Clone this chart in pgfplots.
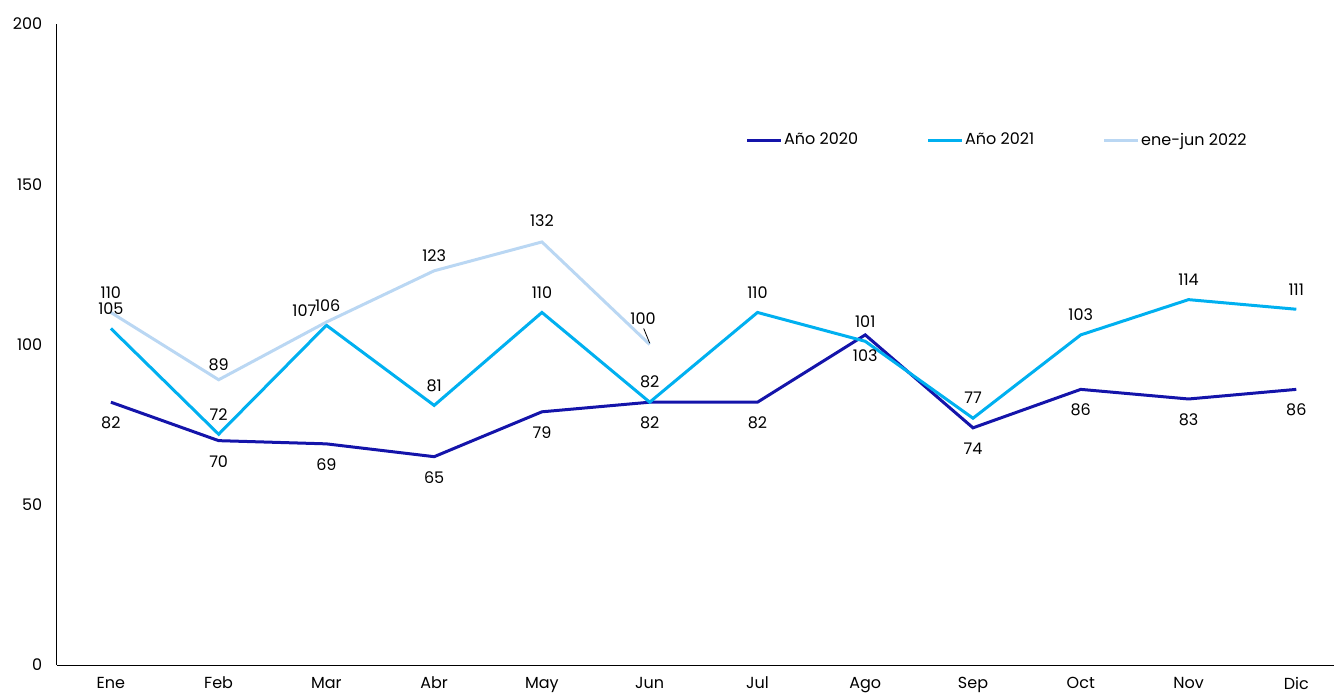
\documentclass[border=0pt]{standalone}
\usepackage{pgfplots}
\pgfplotsset{compat=1.18}
\usepackage{fontspec}
\setmainfont{Poppins}
\definecolor{cA}{HTML}{1414AA}
\definecolor{cB}{HTML}{00B0F0}
\definecolor{cC}{HTML}{BAD7F3}
\pgfplotstableread{
x y dx dy lab
0 82 0 -15.5 82
1 70 0 -15.5 70
2 69 0 -15.5 69
3 65 0 -15.5 65
4 79 0 -15.5 79
5 82 0 -15.5 82
6 82 0 -15.5 82
7 103 0 -15.5 103
8 74 0 -15.5 74
9 86 0 -15.5 86
10 83 0 -15.5 83
11 86 0 -15.5 86
}\tA
\pgfplotstableread{
x y dx dy lab
0 105 0 14.6 105
1 72 0 15 72
2 106 1 15 106
3 81 0 15 81
4 110 0 15 110
5 82 0 15 82
6 110 0 15 110
7 101 0 15 101
8 77 0 15 77
9 103 0 15 103
10 114 0 15 114
11 111 0 15 111
}\tB
\pgfplotstableread{
x y dx dy lab
0 110 0 14.6 110
1 89 0 11.25 89
2 107 -16.5 8.25 107
3 123 0 11.25 123
4 132 0 15.75 132
5 100 -5 19.5 100
}\tC
\begin{document}
\begin{tikzpicture}[font=\fontsize{12}{14}\selectfont]
\useasboundingbox (-42.75pt,-21.75pt) rectangle (957.75pt,498.75pt);
\begin{axis}[
  at={(0,0)}, anchor=south west,
  scale only axis, width=957.75pt, height=480.75pt,
  xmin=-0.5, xmax=11.35, ymin=0, ymax=200,
  axis x line*=bottom, axis y line*=left,
  axis line style={line width=0.75pt, -},
  xtick={0,...,11},
  xticklabels={Ene,Feb,Mar,Abr,May,Jun,Jul,Ago,Sep,Oct,Nov,Dic},
  ytick={0,50,100,150,200},
  major tick length=0pt,
  xticklabel style={yshift=-5.5pt},
  yticklabel style={xshift=-7.5pt},
  /pgf/number format/assume math mode=true,
  tick label style={font=\fontsize{12}{14}\selectfont},
  legend columns=3,
  legend cell align=left,
  legend style={at={(0.536,0.819)}, anchor=west, draw=none, fill=none,
    font=\fontsize{12}{14}\selectfont,
    nodes={inner xsep=1.5pt},
    /tikz/every even column/.append style={column sep=50pt}},
  legend image code/.code={\draw[#1] (0pt,0pt) -- (25pt,0pt);},
  clip=false,
]
\addplot[cA, line width=2.25pt, nodes near coords, point meta=explicit symbolic,
  visualization depends on={\thisrow{dx}\as\dx},
  visualization depends on={\thisrow{dy}\as\dy},
  every node near coord/.style={anchor=center, xshift=\dx pt, yshift=\dy pt, text=black, font=\fontsize{12}{14}\selectfont}]
  table[x=x,y=y,meta=lab]{\tA};
\addlegendentry{Año 2020}
\addplot[cB, line width=2.25pt, nodes near coords, point meta=explicit symbolic,
  visualization depends on={\thisrow{dx}\as\dx},
  visualization depends on={\thisrow{dy}\as\dy},
  every node near coord/.style={anchor=center, xshift=\dx pt, yshift=\dy pt, text=black, font=\fontsize{12}{14}\selectfont}]
  table[x=x,y=y,meta=lab]{\tB};
\addlegendentry{Año 2021}
\addplot[cC, line width=2.25pt, nodes near coords, point meta=explicit symbolic,
  visualization depends on={\thisrow{dx}\as\dx},
  visualization depends on={\thisrow{dy}\as\dy},
  every node near coord/.style={anchor=center, xshift=\dx pt, yshift=\dy pt, text=black, font=\fontsize{12}{14}\selectfont}]
  table[x=x,y=y,meta=lab]{\tC};
\addlegendentry{ene-jun 2022}
\draw[black, line width=0.6pt] ([yshift=1pt]axis cs:5,100) -- ++(-4.5pt,11pt);
\end{axis}
\end{tikzpicture}
\end{document}
